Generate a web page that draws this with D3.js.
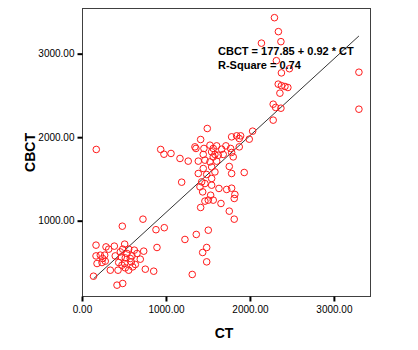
<!DOCTYPE html>
<html>
<head>
<meta charset="utf-8">
<script src="https://cdn.jsdelivr.net/npm/d3@7"></script>
<style>
  html, body { margin: 0; padding: 0; background: #fff; }
  svg { display: block; }
</style>
</head>
<body>
<svg id="chart" width="418" height="350"></svg>
<script>
// CT vs CBCT measurements (paired)
const ct = [
  170, 137, 167, 286, 318, 385, 508, 485, 556, 623, 735, 893,
  167, 218, 270, 246, 179, 238, 277, 396, 468, 515, 595, 655, 694,
  437, 508, 587, 635, 337, 429, 515, 556, 604, 754, 854, 417, 485,
  480, 881, 980, 726, 456, 536, 575, 476,
  1226, 1361, 1504, 1485, 1437, 1485, 1313, 1813, 1754, 1655, 1821, 1813,
  1782, 1723, 1631, 1413, 1532, 1504, 1563, 1464, 1437, 1544, 1464, 1405,
  1544, 1385, 1485, 1583, 1782, 1932, 1444, 1544, 1754, 1187, 1444, 1464,
  1385, 1524, 1604, 1544, 1583, 1623, 1563, 1682, 1782, 1801, 1524, 1563,
  1604, 1663, 1714, 1770, 1873, 1357, 1452, 1413, 1492, 1782, 1842, 1873,
  1889, 1992, 2032, 2277, 937, 976, 1060, 1167, 1265, 1345, 1425,
  2292, 2339, 2369, 2137, 2315, 2470, 2375, 3298, 3298, 2337, 2375, 2417,
  2452, 2357, 2277, 2306, 2369
];
const cbct = [
  1853, 335, 707, 686, 659, 695, 719, 659, 659, 647, 635, 679,
  578, 587, 587, 547, 487, 499, 515, 578, 566, 554, 578, 607, 539,
  499, 487, 507, 475, 407, 407, 435, 407, 447, 419, 395, 228, 248,
  934, 892, 916, 1018, 626, 607, 547, 467,
  775, 835, 886, 679, 619, 507, 356, 1018, 1114, 1206, 1314, 1266,
  1389, 1374, 1386, 1158, 1305, 1246, 1246, 1234, 1345, 1425, 1445, 1405,
  1505, 1565, 1553, 1584, 1565, 1577, 1625, 1644, 1649, 1461, 1793, 1725,
  1713, 1704, 1713, 1824, 1793, 1784, 1764, 1793, 1817, 1764, 1904, 1865,
  1896, 1856, 1896, 1865, 1884, 1865, 1865, 1972, 2104, 2004, 2016, 1984,
  2016, 1976, 2072, 2204, 1853, 1796, 1805, 1745, 1713, 1884, 1465,
  3431, 3264, 3144, 3126, 2916, 2820, 2770, 2778, 2335, 2635, 2617, 2607,
  2595, 2527, 2395, 2356, 2347
];

// Linear fit reported on the chart
const intercept = 177.85;
const slope = 0.92;
const rSquare = 0.74;

const xTicks = [0, 1000, 2000, 3000];
const yTicks = [1000, 2000, 3000];

const svg = d3.select("#chart");
const plot = { left: 82, right: 370, top: 8, bottom: 296 };

const x = d3.scaleLinear().domain([0, 3430]).range([plot.left, plot.right]);
const y = d3.scaleLinear().domain([98, 3547]).range([plot.bottom, plot.top]);
const fmt = d3.format(".2f");

// plot frame
svg.append("rect")
  .attr("x", plot.left + 0.5).attr("y", plot.top + 0.5)
  .attr("width", plot.right - plot.left).attr("height", plot.bottom - plot.top)
  .attr("fill", "#fff").attr("stroke", "#404040").attr("stroke-width", 1);

// axes
const xAxis = svg.append("g")
  .attr("transform", `translate(0,${plot.bottom + 0.5})`)
  .call(d3.axisBottom(x).tickValues(xTicks).tickFormat(fmt).tickSize(5).tickPadding(4));
const yAxis = svg.append("g")
  .attr("transform", `translate(${plot.left + 0.5},0)`)
  .call(d3.axisLeft(y).tickValues(yTicks).tickFormat(fmt).tickSize(5).tickPadding(3));

[xAxis, yAxis].forEach(g => {
  g.select(".domain").remove();
  g.selectAll(".tick line").attr("stroke", "#000").attr("stroke-width", 2);
  g.selectAll(".tick text")
    .attr("fill", "#000")
    .style("font-family", "Arial, 'Liberation Sans', sans-serif")
    .style("font-size", "10px");
});

// regression line across the CT range
const [ctMin, ctMax] = d3.extent(ct);
svg.append("line")
  .attr("x1", x(ctMin)).attr("y1", y(intercept + slope * ctMin))
  .attr("x2", x(ctMax)).attr("y2", y(intercept + slope * ctMax))
  .attr("stroke", "#000").attr("stroke-width", 0.8);

// points
svg.append("g")
  .selectAll("circle")
  .data(ct.map((d, i) => [d, cbct[i]]))
  .join("circle")
  .attr("cx", d => x(d[0]))
  .attr("cy", d => y(d[1]))
  .attr("r", 3.3)
  .attr("fill", "none")
  .attr("stroke", "#ff1a1a")
  .attr("stroke-width", 1);

// fit annotation
const ann = svg.append("g")
  .style("font-family", "Arial, 'Liberation Sans', sans-serif")
  .style("font-size", "11px")
  .style("font-weight", "bold");
ann.append("text").attr("x", 218).attr("y", 55)
  .text(`CBCT = ${intercept} + ${slope} * CT`);
ann.append("text").attr("x", 218).attr("y", 68.5)
  .text(`R-Square = ${rSquare}`);

// axis titles
svg.append("text")
  .attr("x", 224).attr("y", 338)
  .attr("text-anchor", "middle")
  .style("font-family", "Arial, 'Liberation Sans', sans-serif")
  .style("font-size", "14px").style("font-weight", "bold")
  .text("CT");
svg.append("text")
  .attr("transform", "translate(35,152.5) rotate(-90)")
  .attr("text-anchor", "middle")
  .style("font-family", "Arial, 'Liberation Sans', sans-serif")
  .style("font-size", "14px").style("font-weight", "bold")
  .text("CBCT");
</script>
</body>
</html>
